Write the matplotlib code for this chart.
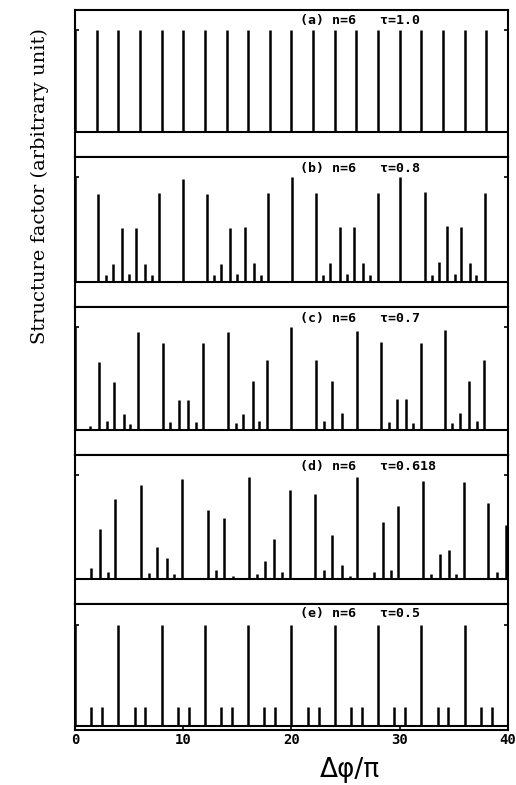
import numpy as np
import matplotlib
matplotlib.use("Agg")
import matplotlib.pyplot as plt

# peak positions (delta phi / pi) and heights
a_pos = [0, 2, 4, 6, 8, 10, 12, 14, 16, 18, 20, 22, 24, 26, 28, 30, 32, 34, 36, 38, 40]
a_h = [1.0] * 21

b_pos = [0, 2.09, 2.83, 3.47, 4.3, 4.98, 5.63, 6.46, 7.07, 7.75, 10.0,
         12.15, 12.86, 13.53, 14.36, 15.01, 15.69, 16.52, 17.16, 17.84, 20.06,
         22.24, 22.92, 23.6, 24.46, 25.13, 25.78, 26.61, 27.23, 28.0, 30.06,
         32.3, 32.98, 33.6, 34.36, 35.07, 35.69, 36.52, 37.07, 37.84, 40]
b_h = [1.0, 0.84, 0.06, 0.17, 0.51, 0.07, 0.51, 0.17, 0.06, 0.85, 0.98,
       0.84, 0.06, 0.17, 0.51, 0.07, 0.52, 0.18, 0.06, 0.85, 1.0,
       0.85, 0.06, 0.18, 0.52, 0.07, 0.52, 0.18, 0.06, 0.85, 1.0,
       0.86, 0.06, 0.19, 0.53, 0.07, 0.52, 0.18, 0.06, 0.85, 1.0]

c_pos = [0, 1.38, 2.24, 2.95, 3.63, 4.55, 5.1, 5.84, 8.15, 8.8, 9.57, 10.43,
         11.2, 11.84, 14.09, 14.9, 15.54, 16.4, 17.0, 17.78, 20.0,
         22.3, 23.0, 23.78, 24.64, 26.03, 28.3, 29.0, 29.72, 30.58, 31.2,
         31.92, 34.15, 34.8, 35.54, 36.4, 37.1, 37.78, 40]
c_h = [1.0, 0.04, 0.66, 0.09, 0.47, 0.15, 0.06, 0.95, 0.84, 0.08, 0.29, 0.29,
       0.08, 0.84, 0.95, 0.07, 0.15, 0.48, 0.09, 0.68, 1.0,
       0.68, 0.09, 0.48, 0.16, 0.96, 0.85, 0.08, 0.3, 0.3, 0.07,
       0.84, 0.97, 0.07, 0.16, 0.48, 0.09, 0.68, 1.0]

d_pos = [1.45, 2.31, 3.02, 3.69, 6.06, 6.83, 7.57, 8.46, 9.17, 9.91,
         12.25, 13.02, 13.75, 14.6, 16.06, 16.86, 17.54, 18.4, 19.14, 19.85,
         22.15, 22.98, 23.75, 24.62, 25.38, 26.09, 27.6, 28.46, 29.23, 29.85,
         32.15, 32.92, 33.69, 34.52, 35.23, 35.91, 38.15, 39.02, 39.78]
d_h = [0.10, 0.48, 0.07, 0.77, 0.90, 0.06, 0.31, 0.20, 0.05, 0.96,
       0.66, 0.08, 0.59, 0.03, 0.98, 0.05, 0.17, 0.38, 0.07, 0.86,
       0.82, 0.08, 0.42, 0.13, 0.03, 0.98, 0.065, 0.55, 0.08, 0.70,
       0.94, 0.05, 0.24, 0.28, 0.05, 0.93, 0.73, 0.065, 0.52]

e_pos = [0, 1.5, 2.5, 4, 5.5, 6.5, 8, 9.5, 10.5, 12, 13.5, 14.5, 16, 17.5, 18.5,
         20, 21.5, 22.5, 24, 25.5, 26.5, 28, 29.5, 30.5, 32, 33.5, 34.5, 36,
         37.5, 38.5, 40]
e_h = [1.0, 0.19, 0.19, 1.0, 0.19, 0.19, 1.0, 0.19, 0.19, 1.0, 0.19, 0.19, 1.0,
       0.19, 0.19, 1.0, 0.19, 0.19, 1.0, 0.19, 0.19, 1.0, 0.19, 0.19, 1.0,
       0.19, 0.19, 1.0, 0.19, 0.19, 1.0]

labels = ["(a) n=6   \u03c4=1.0", "(b) n=6   \u03c4=0.8", "(c) n=6   \u03c4=0.7",
          "(d) n=6   \u03c4=0.618", "(e) n=6   \u03c4=0.5"]
panels = [(a_pos, a_h), (b_pos, b_h), (c_pos, c_h), (d_pos, d_h), (e_pos, e_h)]

fig = plt.figure(figsize=(5.16, 7.85), dpi=100)
gs = fig.add_gridspec(5, 1, height_ratios=[147, 150, 148, 149, 126], hspace=0,
                      left=0.1453, right=0.9845, top=0.9873, bottom=0.0701)

mono = dict(family=["DejaVu Sans Mono"], weight="bold")

for i, ((pos, h), lab) in enumerate(zip(panels, labels)):
    ax = fig.add_subplot(gs[i])
    ax.vlines(pos, 0, h, color="black", lw=1.8)
    ax.axhline(0, color="black", lw=1.5)
    ax.set_xlim(0, 40)
    if i < 4:
        ax.set_ylim(-0.243, 1.194)
    else:
        ax.set_ylim(-0.04, 1.208)
    for s in ax.spines.values():
        s.set_linewidth(1.5)
    ax.set_yticks([1.0])
    ax.tick_params(axis="y", direction="in", length=3, left=True, right=True,
                   labelleft=False, width=1.2)
    ax.text(20.8, 0.925, lab, transform=ax.get_xaxis_transform(), va="center",
            ha="left", fontsize=9.5, **mono)
    if i < 4:
        ax.set_xticks([])
    else:
        ax.set_xticks([0, 10, 20, 30, 40])
        ax.tick_params(axis="x", direction="in", length=3, width=1.2, pad=2)
        for t in ax.get_xticklabels():
            t.set_fontsize(10)
            t.set_fontfamily("DejaVu Sans Mono")
            t.set_fontweight("bold")

fig.text(350 / 516, 1 - 770 / 785, "\u0394\u03c6/\u03c0", ha="center", va="center",
         fontsize=19)
fig.text(40 / 516, 1 - 186 / 785, "Structure factor (arbitrary unit)",
         rotation=90, ha="center", va="center", fontsize=14, family="DejaVu Serif")

fig.savefig("out.png", dpi=100)
